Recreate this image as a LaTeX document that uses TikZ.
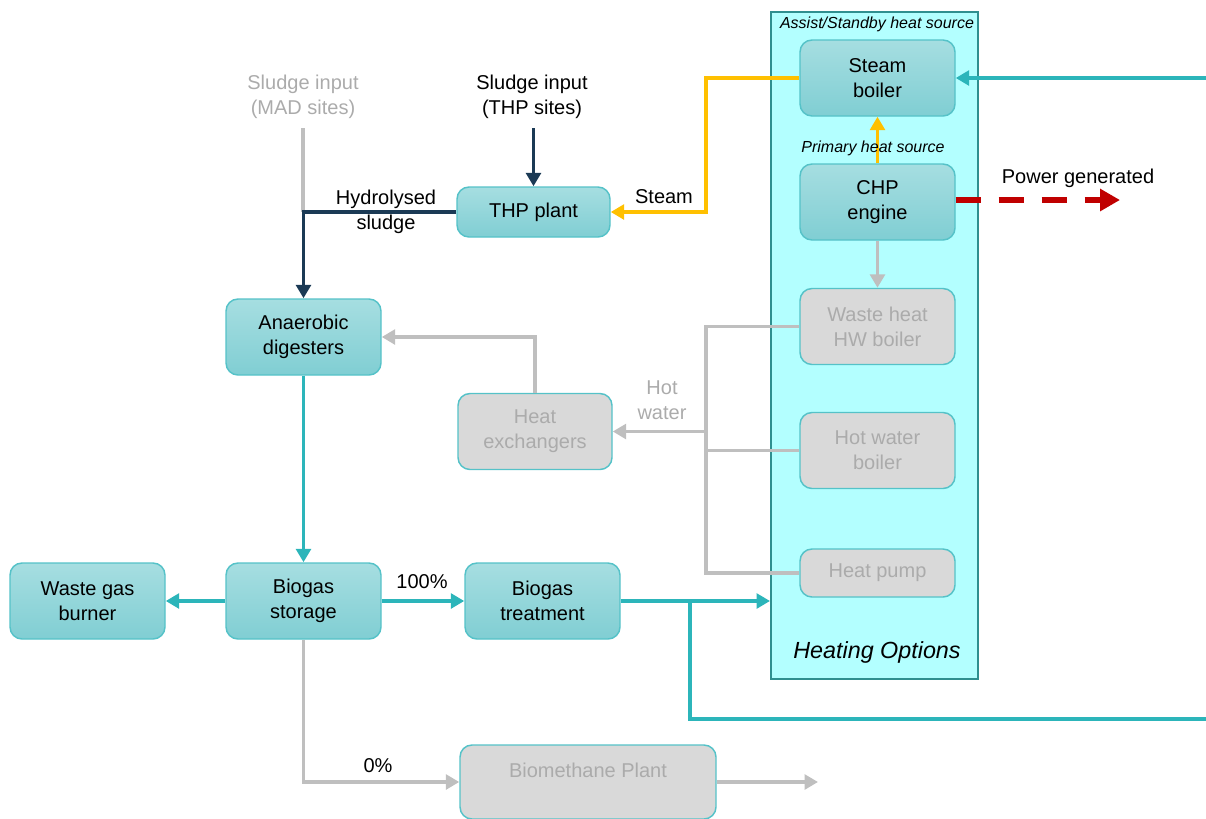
\documentclass[tikz,border=0pt]{standalone}
\usepackage{fontspec}
\setmainfont{Liberation Sans}
\usetikzlibrary{arrows.meta}
\definecolor{tealtop}{HTML}{A6DEE1}
\definecolor{tealbot}{HTML}{80CED3}
\definecolor{tealedge}{HTML}{55C2C8}
\definecolor{grayfill}{HTML}{D9D9D9}
\definecolor{graytext}{HTML}{ABABAB}
\definecolor{grayline}{HTML}{BFBFBF}
\definecolor{outerfill}{HTML}{B3FFFF}
\definecolor{outeredge}{HTML}{2F8F8F}
\definecolor{tealline}{HTML}{2CB5BA}
\definecolor{navy}{HTML}{1B3A55}
\definecolor{amber}{HTML}{FFC000}
\definecolor{darkred}{HTML}{C00000}
\begin{document}
\begin{tikzpicture}[x=0.75pt,y=-0.75pt,
  font=\fontsize{15}{18.75}\selectfont,
  tbox/.style={draw=tealedge, line width=1.1pt, rounded corners=9pt, top color=tealtop, bottom color=tealbot,
    align=center, minimum width=116.25pt, minimum height=57pt, inner sep=0pt, text=black},
  gbox/.style={draw=tealedge, line width=1.1pt, rounded corners=9pt, fill=grayfill, text=graytext,
    align=center, minimum width=116.25pt, minimum height=57pt, inner sep=0pt},
  ar/.style={-{Triangle[length=10pt,width=11pt]}, line width=2.6pt},
  ln/.style={line width=2.6pt},
  lbl/.style={align=center, inner sep=0pt},
  smallit/.style={font=\fontsize{12}{14}\selectfont\itshape, inner sep=0pt}
]
\useasboundingbox (0,0) rectangle (1206,818);

% outer heating options box
\node[draw=outeredge, fill=outerfill, line width=1.5pt, minimum width=155.25pt, minimum height=500.25pt, inner sep=0pt] (heat) at (874.5,345.5) {};
\node[smallit] (assist) at (877,24) {Assist/Standby heat source};
\node[font=\fontsize{17.5}{20}\selectfont\itshape, inner sep=0pt] (hopt) at (877,652) {Heating Options};

% boxes
\node[tbox] (steam) at (877.5,78) {Steam\\boiler};
\node[tbox] (chp) at (877.5,202) {CHP\\engine};
\node[gbox] (wh) at (877.5,326.5) {Waste heat\\HW boiler};
\node[gbox] (hwb) at (877.5,450.5) {Hot water\\boiler};
\node[gbox, minimum height=36pt] (hp) at (877.5,573) {Heat pump};
\node[tbox, minimum width=114.75pt, minimum height=37.5pt] (thp) at (533.5,212) {THP plant};
\node[tbox] (ad) at (303.5,337) {Anaerobic\\digesters};
\node[gbox, minimum width=115.5pt] (hx) at (535,431.5) {Heat\\exchangers};
\node[tbox] (wgb) at (87.5,601) {Waste gas\\burner};
\node[tbox] (bs) at (303.5,601) {Biogas\\storage};
\node[tbox] (bt) at (542.5,601) {Biogas\\treatment};
\node[gbox, minimum width=192pt, minimum height=55.5pt] (bm) at (588,782) {};
\node[lbl, text=graytext] (bmlbl) at (588,770) {Biomethane Plant};

% text labels
\node[lbl, text=graytext] (madlbl) at (303,97) {Sludge input\\(MAD sites)};
\node[lbl] (thplbl) at (532,97) {Sludge input\\(THP sites)};
\node[lbl] (hydlbl) at (386,212) {Hydrolysed\\sludge};
\node[lbl] (steamlbl) at (664,197) {Steam};
\node[lbl] (powlbl) at (1078,178) {Power generated};
\node[lbl, text=graytext] (hwlbl) at (662,400) {Hot\\water};
\node[lbl] (p100) at (422,582) {100\%};
\node[lbl] (p0) at (378,766) {0\%};

% coordinates
\coordinate (madin) at (303,128);
\coordinate (thpin) at (532,128);
\coordinate (gx) at (706,0);
\coordinate (sx) at (706,0);
\coordinate (loopA) at (690,719);
\coordinate (loopB) at (1206,719);
\coordinate (loopC) at (1206,78);
\coordinate (powend) at (1120,200);
\coordinate (bmout) at (818,782);

% sludge lines
\draw[ln, grayline] (madin) -- (madin |- thp.west);
\draw[ar, navy] (thp.west) -| (ad.north);
\draw[ar, navy] (thp.north |- thpin) -- (thp.north);

% steam
\draw[ar, amber] (steam.west) -- (steam.west -| sx) |- (thp.east);
\draw[ar, amber] (chp.north) -- (steam.south);
\node[smallit] (primary) at (873,148) {Primary heat source};

% power
\draw[darkred, line width=4.5pt, dash pattern=on 18.75pt off 13.5pt, -{Triangle[length=15pt,width=16pt]}] (chp.east |- powend) -- (powend);

% gray heat network
\draw[ar, grayline] (chp.south) -- (wh.north);
\draw[ln, grayline] (wh.west) -- (wh.west -| gx) |- (hp.west);
\draw[ln, grayline] (hwb.west) -- (hwb.west -| gx);
\draw[ar, grayline] (hx.east -| gx) -- (hx.east);
\draw[ar, grayline] (hx.north) |- (ad.east);

% biogas
\draw[ar, tealline] (ad.south) -- (bs.north);
\draw[ar, tealline] (bs.west) -- (wgb.east);
\draw[ar, tealline] (bs.east) -- (bt.west);
\draw[ar, tealline] (bt.east) -- (bt.east -| heat.west);
\draw[ln, tealline] (loopA |- bt.east) -- (loopA) -- (loopB);
\draw[ar, tealline] (loopC) -- (steam.east);

% biomethane
\draw[ar, grayline] (bs.south) |- (bm.west);
\draw[ar, grayline] (bm.east) -- (bmout);
\end{tikzpicture}
\end{document}
